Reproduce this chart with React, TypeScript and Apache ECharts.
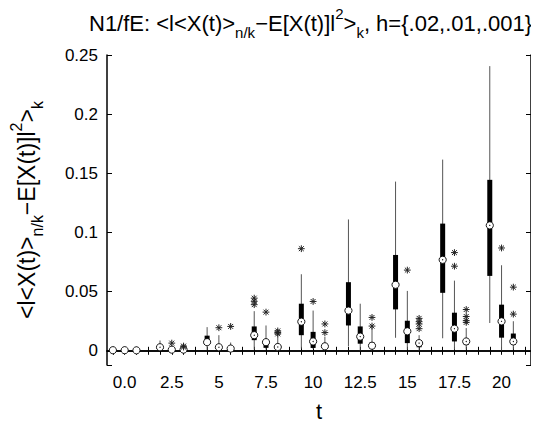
import React, { useEffect, useRef } from "react";
import * as echarts from "echarts";

// t groups and step sizes h (3 boxes per t, one empty slot between groups)
const tLabels = ["0.0", "2.5", "5", "7.5", "10", "12.5", "15", "17.5", "20"];
const hValues = [".02", ".01", ".001"];

// per box (t-major, then h): whisker low, q1, median, q3, whisker high
const whiskerLow = [
  0, 0, 0,
  0.0005, 0.0002, 0.0002,
  0.0005, 0.0003, 0.0003,
  0.001, 0.001, 0.0005,
  0.0019, 0.0015, 0.0005,
  0.0038, 0.0003, 0.0003,
  0.011, 0.001, 0.0003,
  0.0106, 0.001, 0.001,
  0.0235, 0.0003, 0.001,
];
const q1 = [
  0.0002, 0.0002, 0.0002,
  0.002, 0.0006, 0.0006,
  0.005, 0.0015, 0.0012,
  0.009, 0.0025, 0.0015,
  0.0132, 0.0024, 0.0015,
  0.0214, 0.006, 0.002,
  0.035, 0.0065, 0.003,
  0.049, 0.0079, 0.005,
  0.0633, 0.0111, 0.005,
];
const median = [
  0.0005, 0.0005, 0.0004,
  0.003, 0.001, 0.001,
  0.0073, 0.003, 0.0019,
  0.0132, 0.0073, 0.0032,
  0.0246, 0.0079, 0.0038,
  0.034, 0.012, 0.0043,
  0.0558, 0.0165, 0.0065,
  0.0769, 0.0187, 0.0079,
  0.106, 0.0249, 0.0079,
];
const q3 = [
  0.0008, 0.0008, 0.0007,
  0.004, 0.002, 0.0018,
  0.0128, 0.005, 0.003,
  0.0206, 0.0085, 0.0045,
  0.0398, 0.016, 0.006,
  0.058, 0.0206, 0.0071,
  0.081, 0.0254, 0.009,
  0.1075, 0.0322, 0.0092,
  0.1445, 0.039, 0.0146,
];
const whiskerHigh = [
  0.0012, 0.0012, 0.001,
  0.0087, 0.0046, 0.0022,
  0.02, 0.0132, 0.007,
  0.0335, 0.0214, 0.012,
  0.0647, 0.034, 0.012,
  0.111, 0.0398, 0.02,
  0.143, 0.0506, 0.0132,
  0.1616, 0.0593, 0.0192,
  0.2406, 0.0723, 0.025,
];
// outliers: [box index, value]
const outliers: [number, number][] = [
  [4, 0.0065],
  [5, 0.0032], [5, 0.004],
  [7, 0.0195],
  [8, 0.0206],
  [9, 0.039], [9, 0.0418], [9, 0.0445],
  [10, 0.0327],
  [11, 0.0143], [11, 0.0155], [11, 0.0168],
  [12, 0.0863],
  [13, 0.0417],
  [14, 0.0154], [14, 0.0227],
  [17, 0.0209], [17, 0.0282],
  [19, 0.0682],
  [20, 0.0187], [20, 0.0227], [20, 0.0246], [20, 0.0274],
  [22, 0.0715], [22, 0.083],
  [23, 0.024], [23, 0.0255], [23, 0.029], [23, 0.0349],
  [25, 0.0869],
  [26, 0.031], [26, 0.0538],
];

const slotsPerGroup = 4;
const slotOf = (box: number) => Math.floor(box / 3) * slotsPerGroup + (box % 3);

const FONT = "Liberation Sans, Arial, Helvetica, sans-serif";

export default function App() {
  const ref = useRef<HTMLDivElement>(null);
  useEffect(() => {
    if (!ref.current) return;
    const chart = echarts.init(ref.current, undefined, { renderer: "svg" });
    const nSlots = tLabels.length * slotsPerGroup;
    const categories: string[] = [];
    for (let i = 0; i < nSlots; i++) {
      const g = Math.floor(i / slotsPerGroup);
      categories.push(i % slotsPerGroup === 1 ? tLabels[g] : "");
    }
    const boxData = median.map((m, i) => [
      slotOf(i), whiskerLow[i], q1[i], m, q3[i], whiskerHigh[i],
    ]);
    const outData = outliers.map(([b, v]) => [slotOf(b), v]);

    const mkRich = (fs: number, ss: number, lh: number) => ({
      n: { fontSize: fs, fontFamily: FONT, color: "#000", fontWeight: "normal", lineHeight: lh },
      sub: { fontSize: ss, fontFamily: FONT, color: "#000", fontWeight: "normal", verticalAlign: "bottom", lineHeight: ss },
      sup: { fontSize: ss, fontFamily: FONT, color: "#000", fontWeight: "normal", verticalAlign: "top", lineHeight: ss },
    });
    const quantity = "{n|<l<X(t)>}{sub|n/k}{n|−E[X(t)]l}{sup|2}{n|>}{sub|k}";

    const axisLine = { show: true, lineStyle: { color: "#000", width: 1.5 } };
    const yCommon = {
      type: "value" as const,
      min: -0.012,
      max: 0.25,
      splitNumber: 5,
      splitLine: { show: false },
      axisLine,
      axisTick: { show: true, inside: true, length: 5, lineStyle: { color: "#000", width: 1 } },
    };
    const xCommon = {
      type: "category" as const,
      data: categories,
      boundaryGap: true,
      axisLine,
      splitLine: { show: false },
      axisTick: { show: true, inside: true, length: 4, alignWithLabel: true, interval: 0, lineStyle: { color: "#000", width: 1 } },
    };

    chart.setOption({
      animation: false,
      title: {
        text: "{n|N1/fE: }" + quantity + "{n|, h=}{" + hValues.join(",") + "}",
        left: 84,
        top: 1,
        textStyle: {
          fontSize: 22, fontFamily: FONT, color: "#000", fontWeight: "normal", lineHeight: 34,
          rich: mkRich(22, 15, 34),
        },
      },
      grid: { left: 100.5, right: 8, top: 55, bottom: 49, containLabel: false },
      xAxis: [
        {
          ...xCommon,
          position: "bottom",
          name: "t",
          nameLocation: "middle",
          nameGap: 35,
          nameTextStyle: { fontSize: 22, fontFamily: FONT, color: "#000" },
          axisLabel: { interval: 0, fontSize: 17, fontFamily: FONT, color: "#000", margin: 9 },
        },
        { ...xCommon, position: "top", axisLabel: { show: false } },
      ],
      yAxis: [
        {
          ...yCommon,
          position: "left",
          name: quantity,
          nameLocation: "middle",
          nameGap: 62,
          nameRotate: 90,
          nameTextStyle: { rich: mkRich(23, 16, 37) },
          axisLabel: {
            fontSize: 17, fontFamily: FONT, color: "#000", margin: 9,
            formatter: (v: number) => (v < -1e-9 ? "" : String(Math.round(v * 1000) / 1000)),
          },
        },
        { ...yCommon, position: "right", axisLabel: { show: false } },
      ],
      series: [
        {
          type: "custom",
          name: "boxes",
          xAxisIndex: 0,
          yAxisIndex: 0,
          encode: { x: 0, y: [1, 2, 3, 4, 5] },
          data: boxData,
          renderItem: (params: any, api: any) => {
            const c = api.value(0);
            const x = api.coord([c, 0])[0];
            const yv = (k: number) => api.coord([c, api.value(k)])[1];
            const lo = yv(1), a = yv(2), m = yv(3), b = yv(4), hi = yv(5);
            return {
              type: "group",
              children: [
                { type: "line", shape: { x1: x, y1: lo, x2: x, y2: hi }, style: { stroke: "#555", lineWidth: 1 } },
                { type: "line", shape: { x1: x, y1: a, x2: x, y2: b }, style: { stroke: "#000", lineWidth: 5 } },
                { type: "circle", shape: { cx: x, cy: m, r: 3.6 }, style: { fill: "#fff", stroke: "#000", lineWidth: 0.9 } },
                { type: "circle", shape: { cx: x, cy: m, r: 0.6 }, style: { fill: "#000" } },
              ],
            };
          },
        },
        {
          type: "custom",
          name: "outliers",
          xAxisIndex: 0,
          yAxisIndex: 0,
          encode: { x: 0, y: 1 },
          data: outData,
          renderItem: (params: any, api: any) => {
            const p = api.coord([api.value(0), api.value(1)]);
            const s = 3.4;
            const d = s * 0.72;
            const st = { stroke: "#222", lineWidth: 1 };
            return {
              type: "group",
              children: [
                { type: "line", shape: { x1: p[0], y1: p[1] - s, x2: p[0], y2: p[1] + s }, style: st },
                { type: "line", shape: { x1: p[0] - s, y1: p[1], x2: p[0] + s, y2: p[1] }, style: st },
                { type: "line", shape: { x1: p[0] - d, y1: p[1] - d, x2: p[0] + d, y2: p[1] + d }, style: st },
                { type: "line", shape: { x1: p[0] - d, y1: p[1] + d, x2: p[0] + d, y2: p[1] - d }, style: st },
              ],
            };
          },
        },
      ],
    });
    return () => chart.dispose();
  }, []);
  return <div ref={ref} style={{ width: 539, height: 427, margin: -8 }} />;
}
